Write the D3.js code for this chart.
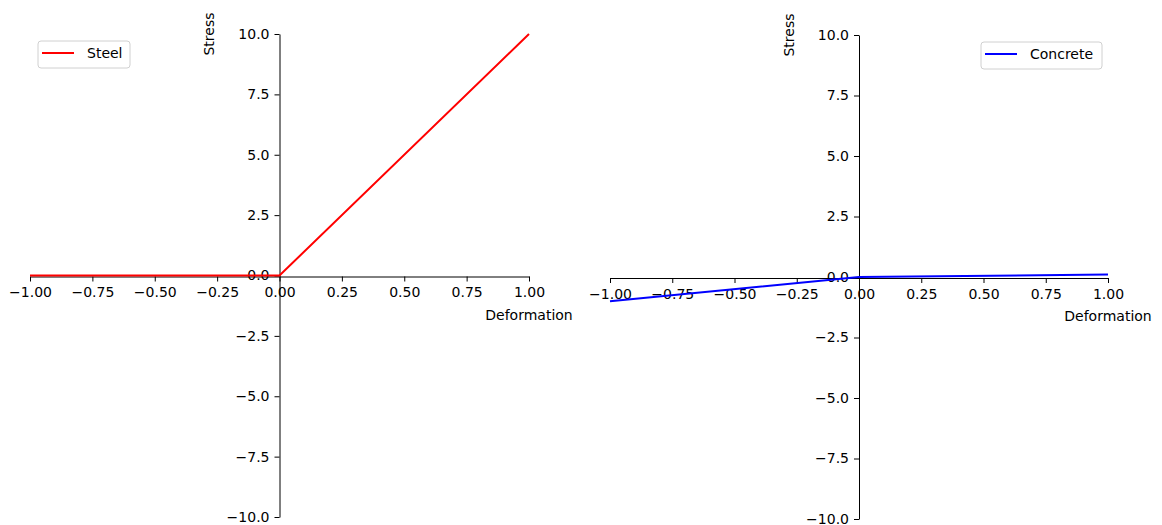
<!DOCTYPE html>
<html>
<head>
<meta charset="utf-8">
<script src="https://cdn.jsdelivr.net/npm/d3@7"></script>
<style>
  body { margin: 0; background: #fff; }
  svg { font-family: "DejaVu Sans", sans-serif; }
</style>
</head>
<body>
<script>
// Stress-deformation laws for steel and concrete
const width = 1162;
const height = 525;

const deformation = [-1, 0, 1];
const steelStress = [0, 0, 10];
const concreteStress = [-1, 0, 0.1];

const xTicks = [-1, -0.75, -0.5, -0.25, 0, 0.25, 0.5, 0.75, 1];
const yTicks = [-10, -7.5, -5, -2.5, 0, 2.5, 5, 7.5, 10];

const svg = d3.select('body')
  .append('svg')
  .attr('width', width)
  .attr('height', height);

const panels = [
  { name: 'Steel', values: steelStress, color: '#ff0000',
    xr: [30, 529], yr: [517, 34], legend: { x: 38, y: 41, w: 92 } },
  { name: 'Concrete', values: concreteStress, color: '#0000ff',
    xr: [610, 1108], yr: [519, 35], legend: { x: 981, y: 42, w: 121 } }
];

panels.forEach(p => {
  const x = d3.scaleLinear().domain([-1, 1]).range(p.xr);
  const y = d3.scaleLinear().domain([-10, 10]).range(p.yr);
  const g = svg.append('g');

  // x axis through zero
  const xa = g.append('g')
    .attr('transform', `translate(0, ${y(0) + 1})`)
    .call(d3.axisBottom(x).tickValues(xTicks).tickFormat(d3.format('.2f'))
      .tickSize(5).tickSizeOuter(0).tickPadding(6));

  // y axis through zero
  const ya = g.append('g')
    .attr('transform', `translate(${x(0)}, 0)`)
    .call(d3.axisLeft(y).tickValues(yTicks).tickFormat(d3.format('.1f'))
      .tickSize(5).tickSizeOuter(0).tickPadding(5));

  [xa, ya].forEach(a => {
    a.attr('font-family', null).attr('font-size', null);
    a.selectAll('text').style('font-size', '14px').attr('fill', '#000');
    a.selectAll('line, path').attr('stroke', '#000').attr('stroke-width', 1);
  });

  // axis labels
  g.append('text')
    .text('Deformation')
    .attr('x', x(1))
    .attr('y', y(0) + 44)
    .attr('text-anchor', 'middle')
    .style('font-size', '14px');

  g.append('text')
    .text('Stress')
    .attr('transform', `translate(${x(0) - 70}, ${y(10)}) rotate(-90)`)
    .attr('text-anchor', 'middle')
    .attr('dy', '0.35em')
    .style('font-size', '14px');

  // line
  const line = d3.line()
    .x((d, i) => x(deformation[i]))
    .y(d => y(d));

  g.append('path')
    .datum(p.values)
    .attr('d', line)
    .attr('fill', 'none')
    .attr('stroke', p.color)
    .attr('stroke-width', 2);

  // legend
  const lg = g.append('g').attr('transform', `translate(${p.legend.x}, ${p.legend.y})`);
  lg.append('rect')
    .attr('width', p.legend.w)
    .attr('height', 27)
    .attr('rx', 3)
    .attr('fill', '#fff')
    .attr('stroke', '#d0d0d0');
  lg.append('line')
    .attr('x1', 4).attr('x2', 36)
    .attr('y1', 12).attr('y2', 12)
    .attr('stroke', p.color)
    .attr('stroke-width', 2);
  lg.append('text')
    .text(p.name)
    .attr('x', 49)
    .attr('y', 12)
    .attr('dy', '0.35em')
    .style('font-size', '14px');
});
</script>
</body>
</html>
